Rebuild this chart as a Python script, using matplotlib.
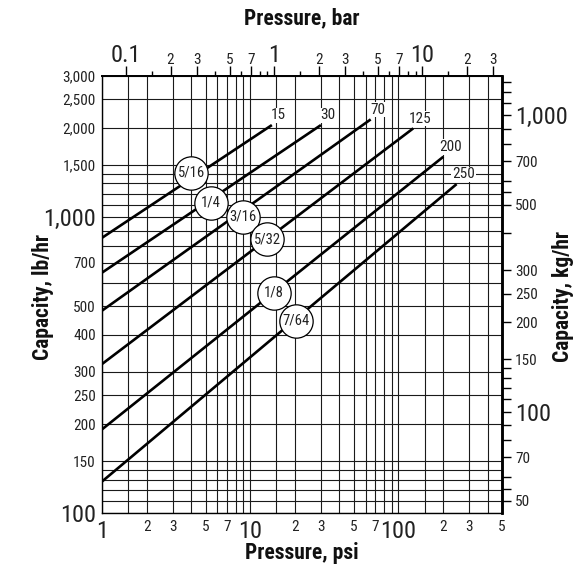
import matplotlib
matplotlib.use('Agg')
import matplotlib.pyplot as plt
from matplotlib import font_manager as fm

# ---- pick a condensed sans font if one is installed ----
_entries = fm.fontManager.ttflist
_names = {f.name for f in _entries}
FONT_STRETCH = 'normal'
if 'Liberation Sans Narrow' in _names:
    FONT_NAME = 'Liberation Sans Narrow'
elif 'Roboto Condensed' in _names:
    FONT_NAME = 'Roboto Condensed'
elif any(f.name == 'DejaVu Sans' and ('Condensed' in f.fname or 'condensed' in str(f.stretch))
         for f in _entries):
    FONT_NAME = 'DejaVu Sans'
    FONT_STRETCH = 'condensed'
else:
    FONT_NAME = 'Liberation Sans'
plt.rcParams['font.family'] = [FONT_NAME, 'DejaVu Sans']
plt.rcParams['font.stretch'] = FONT_STRETCH

# ---------------- data ----------------
orifice_sizes = ['5/16', '1/4', '3/16', '5/32', '1/8', '7/64']
max_pressure_labels = ['15', '30', '70', '125', '200', '250']
start_psi = [1, 1, 1, 1, 1, 1]
end_psi = [14, 30, 65, 126, 201, 247]
start_capacity = [851, 649, 483, 319, 192, 128]
end_capacity = [2044, 2044, 2136, 1993, 1598, 1292]
size_label_psi = [4.0, 5.4, 8.9, 13.0, 14.5, 20.4]
size_label_capacity = [1411, 1118, 1002, 841, 555, 446]

psi_grid = [1, 1.5, 2, 3, 4, 5, 6, 7, 8, 9, 10, 15, 20, 30, 40, 50, 60, 70, 80, 90,
            100, 150, 200, 300, 400, 500]
psi_label_values = [1, 2, 3, 5, 7, 10, 20, 30, 50, 70, 100, 200, 300, 500]
psi_label_texts = ['1', '2', '3', '5', '7', '10', '2', '3', '5', '7', '100', '2', '3', '5']

lb_grid = [100, 110, 120, 130, 140, 150, 200, 250, 300, 400, 500, 600, 700, 800, 900,
           1000, 1100, 1200, 1300, 1400, 1500, 2000, 2500, 3000]
lb_label_values = [100, 150, 200, 250, 300, 400, 500, 700, 1000, 1500, 2000, 2500, 3000]
lb_label_texts = ['100', '150', '200', '250', '300', '400', '500', '700', '1,000',
                  '1,500', '2,000', '2,500', '3,000']

bar_major = [0.1, 0.2, 0.3, 0.5, 0.7, 1, 2, 3, 5, 7, 10, 20, 30]
bar_major_texts = ['0.1', '2', '3', '5', '7', '1', '2', '3', '5', '7', '10', '2', '3']
bar_minor = [0.15, 0.4, 0.6, 0.8, 0.9, 1.5, 4, 6, 8, 9, 15]

kg_major = [50, 70, 100, 150, 200, 250, 300, 500, 700, 1000]
kg_major_texts = ['50', '70', '100', '150', '200', '250', '300', '500', '700', '1,000']
kg_minor = [55, 60, 80, 90, 110, 120, 130, 140, 400, 550, 600, 800, 900, 1100, 1200, 1300]

big_texts = {'0.1', '1', '10', '100', '1,000'}
PSI_PER_BAR = 14.5038
LB_PER_KG = 2.20462

SMALL = 11
BIG = 17.5
CIRCLE_TXT = 10.5
TITLE = 15.5
W, H = 581, 570

fig = plt.figure(figsize=(W / 100, H / 100), dpi=100)
ax = fig.add_axes([102 / W, 1 - 513.3 / H, 400 / W, (513.3 - 75.7) / H])
ax.set_xscale('log')
ax.set_yscale('log')
ax.set_xlim(1, 500)
ax.set_ylim(100, 3000)

# grid lines
for v in psi_grid:
    ax.axvline(v, color='#1a1a1a', lw=0.8, zorder=1)
for v in lb_grid:
    ax.axhline(v, color='#1a1a1a', lw=0.8, zorder=1)

# tick labels bottom / left (no tick marks)
ax.xaxis.set_minor_locator(matplotlib.ticker.NullLocator())
ax.yaxis.set_minor_locator(matplotlib.ticker.NullLocator())
ax.set_xticks(psi_label_values)
ax.set_xticklabels(psi_label_texts)
ax.set_yticks(lb_label_values)
ax.set_yticklabels(lb_label_texts)
ax.tick_params(axis='x', length=0, pad=5)
ax.tick_params(axis='y', length=0, pad=4.5)
for lab in ax.get_xticklabels() + ax.get_yticklabels():
    lab.set_fontsize(BIG if lab.get_text() in big_texts else SMALL)
    lab.set_color('#222')

# curves
for i in range(len(orifice_sizes)):
    ax.plot([start_psi[i], end_psi[i]], [start_capacity[i], end_capacity[i]],
            color='black', lw=1.9, solid_capstyle='butt', zorder=3)
    ax.annotate(max_pressure_labels[i], (end_psi[i], end_capacity[i]),
                xytext=(5, 7), textcoords='offset points', ha='center', va='center',
                fontsize=SMALL, color='#222', zorder=5,
                bbox=dict(boxstyle='square,pad=0.05', fc='white', ec='none'))

# orifice size circles
for i in range(len(orifice_sizes)):
    ax.plot(size_label_psi[i], size_label_capacity[i], 'o', ms=24, mfc='white',
            mec='black', mew=0.9, zorder=6)
    ax.text(size_label_psi[i], size_label_capacity[i], orifice_sizes[i], ha='center',
            va='center', fontsize=CIRCLE_TXT, color='#222', zorder=7)

for side, w in [('left', 1.0), ('bottom', 1.0), ('top', 1.3), ('right', 1.8)]:
    ax.spines[side].set_linewidth(w)
    ax.spines[side].set_zorder(8)

# top axis: bar
top = ax.secondary_xaxis('top', functions=(lambda p: p / PSI_PER_BAR,
                                           lambda b: b * PSI_PER_BAR))
top.set_xticks(bar_major)
top.set_xticklabels(bar_major_texts)
top.set_xticks(bar_minor, minor=True)
top.xaxis.set_minor_formatter(matplotlib.ticker.NullFormatter())
top.tick_params(axis='x', which='major', length=7, width=1.0, pad=-1, direction='out')
top.tick_params(axis='x', which='minor', length=3.8, width=1.0, direction='out')
top.spines['top'].set_linewidth(1.3)
for lab in top.get_xticklabels():
    lab.set_fontsize(BIG if lab.get_text() in big_texts else SMALL)
    lab.set_color('#222')

# right axis: kg/hr
right = ax.secondary_yaxis('right', functions=(lambda lb: lb / LB_PER_KG,
                                               lambda kg: kg * LB_PER_KG))
right.set_yticks(kg_major)
right.set_yticklabels(kg_major_texts)
right.set_yticks(kg_minor, minor=True)
right.yaxis.set_minor_formatter(matplotlib.ticker.NullFormatter())
right.tick_params(axis='y', which='both', length=6.5, width=1.0, pad=3, direction='out')
right.spines['right'].set_linewidth(1.8)
for lab in right.get_yticklabels():
    lab.set_fontsize(BIG if lab.get_text() in big_texts else SMALL)
    lab.set_color('#222')

# axis titles
title_kw = dict(fontsize=TITLE, fontweight='bold', color='#111', ha='center', va='center')
fig.text(302 / W, 1 - 18 / H, 'Pressure, bar', **title_kw)
fig.text(302 / W, 1 - 553 / H, 'Pressure, psi', **title_kw)
fig.text(43 / W, 1 - 297 / H, 'Capacity, lb/hr', rotation=90, **title_kw)
fig.text(563 / W, 1 - 297 / H, 'Capacity, kg/hr', rotation=90, **title_kw)

fig.savefig('out.png', dpi=100)
